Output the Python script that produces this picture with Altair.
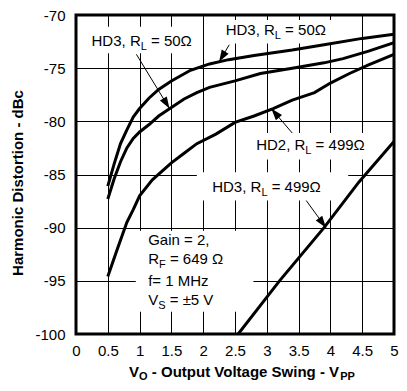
import math
import altair as alt
import pandas as pd

# ---------------- data ----------------
hd3_50a_x = [0.5, 0.6, 0.7, 0.8, 0.9, 1.0, 1.15, 1.3, 1.5, 1.8, 2.1, 2.4, 2.8, 3.4, 3.9, 4.5, 5.0]
hd3_50a_y = [-86.1, -84.0, -82.1, -80.8, -79.6, -78.8, -77.8, -77.0, -76.2, -75.2, -74.6, -74.2, -73.8, -73.3, -72.8, -72.2, -71.8]

hd3_50b_x = [0.5, 0.6, 0.7, 0.8, 0.9, 1.0, 1.15, 1.3, 1.5, 1.7, 1.9, 2.1, 2.3, 2.5, 2.9, 3.4, 3.9, 4.2, 4.6, 5.0]
hd3_50b_y = [-87.3, -85.4, -83.8, -82.5, -81.6, -81.0, -80.3, -79.5, -78.7, -77.9, -77.3, -76.8, -76.5, -76.2, -75.5, -75.0, -74.5, -74.1, -73.4, -72.6]

hd2_499_x = [0.5, 0.65, 0.8, 0.9, 1.0, 1.2, 1.5, 1.7, 1.9, 2.2, 2.5, 2.8, 3.1, 3.4, 3.75, 4.0, 4.3, 4.6, 5.0]
hd2_499_y = [-94.6, -92.0, -89.5, -88.3, -87.0, -85.5, -83.9, -83.0, -82.1, -81.2, -80.1, -79.5, -78.8, -78.0, -77.3, -76.4, -75.5, -74.7, -73.7]

hd3_499_x = [2.55, 3.2, 3.9, 4.45, 5.0]
hd3_499_y = [-100.0, -95.0, -90.0, -85.7, -81.9]

x_ticks = [0, 0.5, 1, 1.5, 2, 2.5, 3, 3.5, 4, 4.5, 5]
y_ticks = [-100, -95, -90, -85, -80, -75, -70]

# annotation labels: pieces alternate normal / subscript
label_pieces = [
    ["HD3, R", "L", " = 50Ω"],
    ["HD3, R", "L", " = 50Ω"],
    ["HD2, R", "L", " = 499Ω"],
    ["HD3, R", "L", " = 499Ω"],
    ["Gain = 2,"],
    ["R", "F", " = 649 Ω"],
    ["f= 1 MHz"],
    ["V", "S", " = ±5 V"],
]
label_x = [1.035, 3.144, 3.689, 2.998, 1.135, 1.135, 1.135, 1.135]
label_y = [-72.91, -71.85, -82.74, -86.62, -91.6, -93.45, -95.48, -97.23]
label_align = ["center", "center", "center", "center", "left", "left", "left", "left"]

# white boxes behind labels (hide grid)
box_x1 = [0.14, 2.24, 2.60, 1.90, 0.94]
box_x2 = [1.93, 4.05, 4.74, 4.28, 2.79]
box_y1 = [-71.1, -70.46, -81.1, -84.8, -90.3]
box_y2 = [-73.6, -72.68, -83.6, -87.45, -97.9]

# arrows: tail -> tip
arrow_tail_x = [0.95, 2.41, 3.40, 3.62]
arrow_tail_y = [-73.7, -72.8, -81.1, -87.45]
arrow_tip_x = [1.47, 2.25, 3.07, 3.93]
arrow_tip_y = [-78.8, -74.4, -78.8, -90.0]

x_title_pieces = ["V", "O", " - Output Voltage Swing - V", "PP"]
y_title = "Harmonic Distortion - dBc"

# ---------------- layout ----------------
W, H = 318, 319
XD = [0, 5]
YD = [-100, -70]
PX = W / (XD[1] - XD[0])
PY = H / (YD[1] - YD[0])
FONT = "Liberation Sans"
FS, SFS = 15, 11

AR = {' ': 278, ',': 278, '-': 333, '=': 584, '±': 549, 'Ω': 768, 'H': 722, 'D': 722,
      'R': 722, 'L': 556, 'G': 778, 'F': 611, 'M': 833, 'V': 667, 'S': 667, 'a': 556,
      'i': 222, 'n': 556, 'f': 278, 'z': 500}
ARB = {' ': 278, '-': 333, 'V': 667, 'O': 778, 'P': 667, 'u': 611, 't': 333, 'p': 611,
       'o': 611, 'l': 278, 'a': 556, 'g': 611, 'e': 556, 'S': 667, 'w': 778, 'i': 278, 'n': 611}


def tw(s, size, bold=False):
    t = ARB if bold else AR
    return sum(t.get(c, 556) for c in s) * size / 1000.0


def build(pieces, ax, ay, align, bold, sub_drop):
    main, sub = [], []
    widths = [tw(p, SFS if i % 2 else FS, bold) for i, p in enumerate(pieces)]
    start = -sum(widths) / 2 if align == "center" else 0.0
    cum = start
    for i, p in enumerate(pieces):
        size = SFS if i % 2 else FS
        txt = p.lstrip(" ")
        lead = tw(p[: len(p) - len(txt)], size, bold)  # leading spaces become an offset
        row = {"x": ax + (cum + lead) / PX, "y": ay - (sub_drop / PY if i % 2 else 0), "t": txt}
        (sub if i % 2 else main).append(row)
        cum += widths[i]
    return main, sub


lab_main, lab_sub = [], []
for pcs, ax, ay, al in zip(label_pieces, label_x, label_y, label_align):
    m, s = build(pcs, ax, ay, al, False, 4)
    lab_main += m
    lab_sub += s

xt_main, xt_sub = build(x_title_pieces, 166 / PX, -70 - 362 / PY, "center", True, 3)

curves = pd.DataFrame(
    [{"x": a, "y": b, "s": "A", "o": i} for i, (a, b) in enumerate(zip(hd3_50a_x, hd3_50a_y))]
    + [{"x": a, "y": b, "s": "B", "o": i} for i, (a, b) in enumerate(zip(hd3_50b_x, hd3_50b_y))]
    + [{"x": a, "y": b, "s": "C", "o": i} for i, (a, b) in enumerate(zip(hd2_499_x, hd2_499_y))]
    + [{"x": a, "y": b, "s": "D", "o": i} for i, (a, b) in enumerate(zip(hd3_499_x, hd3_499_y))]
)

boxes = pd.DataFrame({"x": box_x1, "x2": box_x2, "y": box_y1, "y2": box_y2})

angles = []
for tx, ty, hx, hy in zip(arrow_tail_x, arrow_tail_y, arrow_tip_x, arrow_tip_y):
    dxp = (hx - tx) * PX
    dyp = -(hy - ty) * PY
    angles.append(math.degrees(math.atan2(dxp, -dyp)) % 360)
arrows = pd.DataFrame({"x": arrow_tail_x, "y": arrow_tail_y, "x2": arrow_tip_x,
                       "y2": arrow_tip_y, "a": angles})

xaxis = alt.Axis(values=x_ticks, labelExpr="'' + datum.value", title=None, grid=True,
                 gridColor="black", gridWidth=1, gridOpacity=1, domain=False, ticks=False,
                 labelFont=FONT, labelFontSize=FS, labelColor="black", labelPadding=9,
                 labelFlush=False, labelOverlap=False)
yaxis = alt.Axis(values=y_ticks, labelExpr="'' + datum.value", title=None, grid=True,
                 gridColor="black", gridWidth=1, gridOpacity=1, domain=False, ticks=False,
                 labelFont=FONT, labelFontSize=FS, labelColor="black", labelPadding=11,
                 labelFlush=False, labelOverlap=False)


def X(f="x"):
    return alt.X(f, type="quantitative", scale=alt.Scale(domain=XD, nice=False, zero=False), axis=xaxis)


def Y(f="y"):
    return alt.Y(f, type="quantitative", scale=alt.Scale(domain=YD, nice=False, zero=False), axis=yaxis)


rects = alt.Chart(boxes).mark_rect(color="white", opacity=1).encode(
    x=X(), x2="x2", y=Y(), y2="y2")

lines = alt.Chart(curves).mark_line(color="black", strokeWidth=3, clip=True).encode(
    x=X(), y=Y(), detail="s:N", order="o:Q")

shafts = alt.Chart(arrows).mark_rule(color="black", strokeWidth=1).encode(
    x=X(), y=Y(), x2="x2", y2="y2")

heads = alt.Chart(arrows).mark_point(
    shape="M0,0L-0.34,1L0.34,1Z", filled=True, color="black", opacity=1, size=560,
    strokeWidth=0).encode(x=X("x2"), y=Y("y2"), angle=alt.Angle("a:Q", scale=None))

t_main = alt.Chart(pd.DataFrame(lab_main)).mark_text(
    font=FONT, fontSize=FS, color="black", align="left", baseline="alphabetic").encode(
    x=X(), y=Y(), text="t:N")
t_sub = alt.Chart(pd.DataFrame(lab_sub)).mark_text(
    font=FONT, fontSize=SFS, color="black", align="left", baseline="alphabetic").encode(
    x=X(), y=Y(), text="t:N")

xt_m = alt.Chart(pd.DataFrame(xt_main)).mark_text(
    font=FONT, fontSize=FS, fontWeight="bold", color="black", align="left",
    baseline="alphabetic").encode(x=X(), y=Y(), text="t:N")
xt_s = alt.Chart(pd.DataFrame(xt_sub)).mark_text(
    font=FONT, fontSize=SFS, fontWeight="bold", color="black", align="left",
    baseline="alphabetic").encode(x=X(), y=Y(), text="t:N")

yt = alt.Chart(pd.DataFrame({"x": [-58 / PX], "y": [-70 - 168 / PY], "t": [y_title]})).mark_text(
    font=FONT, fontSize=FS, fontWeight="bold", color="black", align="center",
    baseline="middle", angle=270).encode(x=X(), y=Y(), text="t:N")

chart = alt.layer(rects, lines, shafts, heads, t_main, t_sub, xt_m, xt_s, yt).properties(
    width=W, height=H,
    autosize=alt.AutoSizeParams(type="none"),
    padding={"left": 68, "top": 7, "right": 5, "bottom": 47},
).configure_view(stroke="black", strokeWidth=3)

chart.save("out.html", embed_options={"renderer": "svg", "actions": False})
